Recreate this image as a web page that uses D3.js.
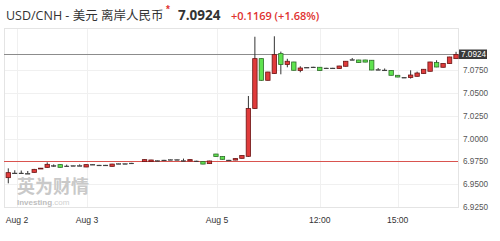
<!DOCTYPE html>
<html><head><meta charset="utf-8">
<script src="https://cdnjs.cloudflare.com/ajax/libs/d3/7.8.5/d3.min.js"></script>
<style>
html,body{margin:0;padding:0;background:#fff;}
svg{display:block;}
</style></head>
<body>
<svg id="chart" width="500" height="241"></svg>
<script>
// ---- data (candle index = slot on the x axis; red = up, green = down) ----
const candleIndex = [0,1,2,3,4,5,6,7,8,9,10,11,12,13,14,15,16,17,18,19,
  21,22,23,24,25,26,27,28,29,30,31,32,33,34,35,36,37,38,39,40,41,42,43,44,45,46,47,48,49,50,
  51,52,53,54,55,56,57,58,59,60,61,62,63,64,65,66,67,68,69];
const openV = [6.9572,6.9623,6.9623,6.9619,6.9630,6.9672,6.9685,6.9704,6.9715,6.9700,6.9704,6.9704,6.9689,6.9718,6.9710,6.9710,6.9696,6.9726,6.9726,6.9732,
  6.9748,6.9748,6.9759,6.9765,6.9770,6.9770,6.9759,6.9755,6.9755,6.9748,6.9726,6.9831,6.9803,6.9765,6.9765,6.9784,6.9806,7.0330,7.0878,7.0640,7.0714,7.0933,7.0813,7.0841,7.0747,7.0783,7.0786,7.0783,7.0775,7.0775,
  7.0769,7.0794,7.0867,7.0863,7.0863,7.0860,7.0758,7.0753,7.0747,7.0695,7.0673,7.0670,7.0684,7.0714,7.0739,7.0835,7.0783,7.0824,7.0878];
const highV = [6.9674,6.9653,6.9650,6.9645,6.9668,6.9678,6.9740,6.9718,6.9720,6.9715,6.9706,6.9718,6.9718,6.9720,6.9712,6.9712,6.9724,6.9728,6.9728,6.9734,
  6.9772,6.9768,6.9761,6.9767,6.9772,6.9772,6.9781,6.9772,6.9757,6.9750,6.9757,6.9833,6.9805,6.9767,6.9783,6.9816,7.0468,7.1118,7.0880,7.0733,7.1123,7.0955,7.0876,7.0843,7.0794,7.0785,7.0788,7.0785,7.0777,7.0777,
  7.0799,7.0851,7.0885,7.0865,7.0865,7.0862,7.0775,7.0770,7.0749,7.0697,7.0675,7.0750,7.0735,7.0763,7.0843,7.0860,7.0826,7.0898,7.0953];
const lowV = [6.9510,6.9621,6.9621,6.9617,6.9627,6.9670,6.9680,6.9692,6.9683,6.9698,6.9702,6.9702,6.9687,6.9716,6.9708,6.9708,6.9694,6.9724,6.9724,6.9730,
  6.9746,6.9746,6.9757,6.9763,6.9768,6.9768,6.9757,6.9753,6.9753,6.9719,6.9724,6.9801,6.9771,6.9763,6.9763,6.9782,6.9800,7.0325,7.0635,7.0638,7.0712,7.0706,7.0783,7.0748,7.0728,7.0781,7.0784,7.0745,7.0773,7.0773,
  7.0767,7.0792,7.0865,7.0833,7.0838,7.0751,7.0756,7.0751,7.0693,7.0674,7.0671,7.0659,7.0680,7.0712,7.0737,7.0784,7.0781,7.0822,7.0876];
const closeV = [6.9627,6.9623,6.9623,6.9619,6.9663,6.9676,6.9718,6.9704,6.9685,6.9700,6.9704,6.9704,6.9715,6.9718,6.9710,6.9710,6.9721,6.9726,6.9726,6.9732,
  6.9770,6.9766,6.9759,6.9765,6.9770,6.9770,6.9759,6.9770,6.9755,6.9721,6.9755,6.9803,6.9773,6.9765,6.9781,6.9814,7.0330,7.0878,7.0640,7.0731,7.0922,7.0813,7.0849,7.0750,7.0775,7.0783,7.0786,7.0747,7.0775,7.0775,
  7.0797,7.0849,7.0867,7.0835,7.0840,7.0753,7.0758,7.0753,7.0695,7.0676,7.0673,7.0698,7.0720,7.0761,7.0841,7.0786,7.0824,7.0896,7.0924];

const xTickLabels = ["Aug 2","Aug 3","Aug 5","12:00","15:00"];
const xTickAt = [1.34, 12.13, 32.16, 48.0, 60.0];
const yTicks = [6.925, 6.95, 6.975, 7.0, 7.025, 7.05, 7.075];
const lastPrice = 7.0924;
const prevClose = 6.9755;
const titleText = "USD/CNH - 美元 离岸人民币";
const priceText = "7.0924";
const changeText = "+0.1169 (+1.68%)";

// ---- layout ----
const svg = d3.select("#chart");
const L = 4, R = 458, T = 28, B = 207;
const x = d3.scaleLinear().domain([-0.66, 69.3]).range([L, R]);
const y = d3.scaleLinear().domain([6.925, 7.1214]).range([B, T]);

const candles = candleIndex.map((k, i) => ({k, o: openV[i], h: highV[i], l: lowV[i], c: closeV[i]}));

// grid
const g = svg.append("g");
g.selectAll("line.hg").data(yTicks).join("line")
  .attr("x1", L).attr("x2", R)
  .attr("y1", d => Math.round(y(d)) + 0.5).attr("y2", d => Math.round(y(d)) + 0.5)
  .attr("stroke", "#f0f0f0");
g.selectAll("line.vg").data(xTickAt).join("line")
  .attr("x1", d => Math.round(x(d)) + 0.5).attr("x2", d => Math.round(x(d)) + 0.5)
  .attr("y1", T).attr("y2", B)
  .attr("stroke", "#f0f0f0");
// frame
svg.append("rect").attr("x", L + 0.5).attr("y", T + 0.5).attr("width", R - L).attr("height", B - T)
  .attr("fill", "none").attr("stroke", "#e4e4e4");

// watermark
const wm = svg.append("g");
wm.append("text").attr("x", 17).attr("y", 193)
  .attr("font-family", "'Noto Sans CJK SC'").attr("font-weight", "bold").attr("font-size", 18)
  .attr("fill", "#c9c9c9").text("英为财情");
wm.append("text").attr("x", 17).attr("y", 205)
  .attr("font-family", "'Liberation Sans', Arial").attr("font-size", 8).attr("font-weight", "bold")
  .attr("fill", "#bdbdbd")
  .call(t => { t.append("tspan").text("Investing"); t.append("tspan").attr("font-weight", "normal").attr("fill", "#d0d0d0").text(".com"); });

// previous close line (red) and last price line (gray)
svg.append("line").attr("x1", L).attr("x2", R)
  .attr("y1", Math.round(y(prevClose)) + 0.5).attr("y2", Math.round(y(prevClose)) + 0.5)
  .attr("stroke", "#d9534f").attr("stroke-width", 1);
svg.append("line").attr("x1", L).attr("x2", R)
  .attr("y1", Math.round(y(lastPrice)) + 0.5).attr("y2", Math.round(y(lastPrice)) + 0.5)
  .attr("stroke", "#8c8c8c").attr("stroke-width", 1);

// candles
const bw = 4.4;
const cg = svg.append("g").selectAll("g").data(candles).join("g");
cg.append("line")
  .attr("x1", d => x(d.k)).attr("x2", d => x(d.k))
  .attr("y1", d => y(d.h)).attr("y2", d => y(d.l))
  .attr("stroke", "#333").attr("stroke-width", 1);
cg.append("rect")
  .attr("x", d => x(d.k) - bw / 2)
  .attr("y", d => y(Math.max(d.o, d.c)))
  .attr("width", bw)
  .attr("height", d => Math.max(0.8, Math.abs(y(d.o) - y(d.c))))
  .attr("fill", d => d.c > d.o ? "#e03b3b" : (d.c < d.o ? "#5fe34f" : "#333"))
  .attr("stroke", d => d.c > d.o ? "#6b1515" : (d.c < d.o ? "#2f6e2a" : "#333"))
  .attr("stroke-width", d => d.c === d.o ? 0.4 : 0.8);

// y axis labels
svg.append("g").selectAll("text").data(yTicks).join("text")
  .attr("x", 463).attr("y", d => y(d) + 3)
  .attr("font-family", "'Liberation Sans', Arial").attr("font-size", 8.2).attr("fill", "#555")
  .text(d => d3.format(".4f")(d));
// last price tag
svg.append("rect").attr("x", 459).attr("y", Math.round(y(lastPrice)) - 4.5).attr("width", 28).attr("height", 9.5)
  .attr("fill", "#3a3a3a");
svg.append("text").attr("x", 461).attr("y", y(lastPrice) + 3)
  .attr("font-family", "'Liberation Sans', Arial").attr("font-size", 8.2).attr("fill", "#fff")
  .text(d3.format(".4f")(lastPrice));

// x axis labels
svg.append("g").selectAll("text").data(xTickAt).join("text")
  .attr("x", d => x(d)).attr("y", 223).attr("text-anchor", "middle")
  .attr("font-family", "'Liberation Sans', Arial").attr("font-size", 8.6).attr("fill", "#333")
  .text((d, i) => xTickLabels[i]);

// title
const tt = svg.append("text").attr("x", 6).attr("y", 20)
  .attr("font-family", "'Open Sans', 'Noto Sans CJK SC', sans-serif").attr("font-size", 12.5).attr("fill", "#333");
tt.append("tspan").text(titleText);
svg.append("text").attr("x", 166).attr("y", 13).attr("font-family", "'Liberation Sans', Arial")
  .attr("font-size", 10).attr("font-weight", "bold").attr("fill", "#e0322f").text("*");
svg.append("text").attr("x", 178).attr("y", 20)
  .attr("font-family", "'Open Sans', sans-serif").attr("font-weight", "bold").attr("font-size", 13.5).attr("fill", "#333")
  .text(priceText);
svg.append("text").attr("x", 231).attr("y", 20)
  .attr("font-family", "'Open Sans', sans-serif").attr("font-weight", 600).attr("font-size", 11).attr("fill", "#e0322f")
  .text(changeText);
</script>
</body></html>
